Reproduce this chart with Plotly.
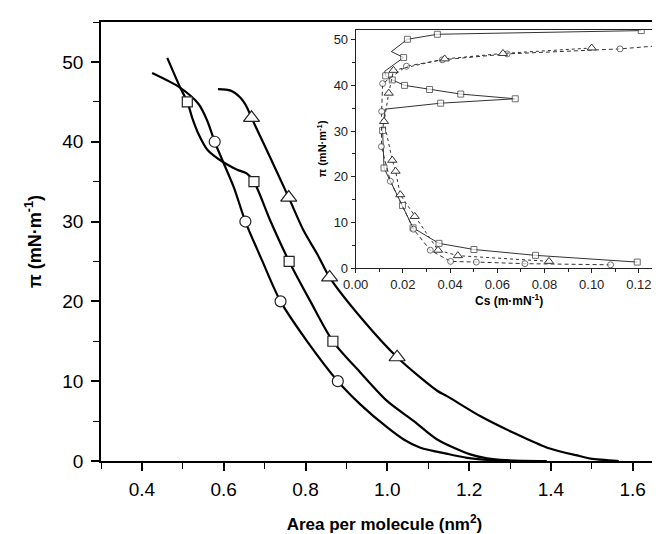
import plotly.graph_objects as go

# ---------------- main chart data (Area per molecule vs surface pressure) ----------------
circ_curve_x = [0.425, 0.494, 0.539, 0.56, 0.578, 0.60, 0.625, 0.653, 0.694, 0.739, 0.804, 0.879, 0.934, 1.0, 1.04, 1.081, 1.147, 1.195, 1.228, 1.30]
circ_curve_y = [48.6, 46.75, 44.7, 42.6, 40.0, 37.3, 34.25, 30.0, 25.1, 20.0, 15.0, 10.0, 7.1, 4.2, 2.7, 1.67, 0.9, 0.4, 0.2, 0.0]

sq_curve_x = [0.462, 0.494, 0.511, 0.523, 0.539, 0.56, 0.60, 0.633, 0.657, 0.674, 0.714, 0.760, 0.812, 0.867, 0.934, 1.0, 1.065, 1.122, 1.203, 1.244, 1.29, 1.39]
sq_curve_y = [50.5, 46.75, 45.0, 43.0, 40.9, 39.0, 37.4, 36.5, 36.0, 35.0, 30.1, 25.0, 20.0, 15.0, 11.1, 7.5, 5.0, 2.7, 0.83, 0.33, 0.1, 0.0]

tri_curve_x = [0.586, 0.617, 0.641, 0.657, 0.668, 0.714, 0.759, 0.796, 0.829, 0.859, 0.943, 1.024, 1.122, 1.147, 1.228, 1.31, 1.391, 1.472, 1.497, 1.566]
tri_curve_y = [46.6, 46.4, 45.5, 44.3, 43.0, 38.0, 33.0, 28.8, 25.9, 23.0, 17.5, 13.0, 8.8, 8.1, 5.6, 3.5, 1.67, 0.6, 0.3, 0.0]

circ_mark_x = [0.578, 0.653, 0.739, 0.879]
circ_mark_y = [40, 30, 20, 10]
sq_mark_x = [0.511, 0.674, 0.760, 0.867]
sq_mark_y = [45, 35, 25, 15]
tri_mark_x = [0.668, 0.759, 0.859, 1.024]
tri_mark_y = [43, 33, 23, 13]

# ---------------- inset data (Cs vs surface pressure) ----------------
in_sq_cs = [0.1193, 0.0762, 0.0501, 0.0353, 0.0243, 0.0198, 0.0120, 0.0114, 0.0125, 0.0360, 0.0676, 0.0445, 0.0313, 0.0207, 0.0155, 0.0127, 0.0123, 0.0203, 0.0151, 0.0219, 0.0346, 0.121]
in_sq_pi = [1.3, 2.77, 4.05, 5.4, 8.8, 13.7, 21.9, 30.1, 34.8, 36.1, 37.07, 38.1, 39.1, 40.0, 41.2, 42.1, 43.1, 46.1, 47.4, 50.1, 51.2, 52.0]
in_sq_marked = [1, 1, 1, 1, 1, 1, 1, 1, 0, 1, 1, 1, 1, 1, 1, 1, 0, 1, 0, 1, 1, 1]

in_ci_cs = [0.108, 0.0717, 0.0511, 0.0402, 0.0316, 0.0245, 0.0147, 0.0109, 0.011, 0.0114, 0.0215, 0.0367, 0.0642, 0.112, 0.131]
in_ci_pi = [0.7, 0.95, 1.3, 1.45, 3.9, 8.5, 19.0, 26.6, 34.3, 40.4, 44.2, 45.6, 46.9, 48.0, 48.8]
in_ci_marked = [1, 1, 1, 1, 1, 1, 1, 1, 1, 1, 1, 1, 1, 1, 0]

in_tr_cs = [0.0819, 0.0433, 0.0349, 0.025, 0.0189, 0.0169, 0.0155, 0.012, 0.014, 0.016, 0.0377, 0.0624, 0.100]
in_tr_pi = [1.46, 2.7, 3.9, 11.3, 16.05, 21.2, 23.6, 32.1, 38.3, 43.3, 45.8, 47.0, 48.2]

FONT = "Arial, Liberation Sans, sans-serif"
fig = go.Figure()

# main curves
for cx, cy in [(circ_curve_x, circ_curve_y), (sq_curve_x, sq_curve_y), (tri_curve_x, tri_curve_y)]:
    fig.add_trace(go.Scatter(x=cx, y=cy, mode="lines", line=dict(color="black", width=2.2, shape="spline", smoothing=0.8),
                             showlegend=False, hoverinfo="skip", xaxis="x", yaxis="y"))
for mx, my, sym, sz in [(circ_mark_x, circ_mark_y, "circle", 11), (sq_mark_x, sq_mark_y, "square", 10), (tri_mark_x, tri_mark_y, "triangle-up", 14)]:
    fig.add_trace(go.Scatter(x=mx, y=my, mode="markers",
                             marker=dict(symbol=sym, size=sz, color="white", line=dict(color="#222", width=1.2)),
                             showlegend=False, xaxis="x", yaxis="y"))

# inset
INC = "#333333"
fig.add_trace(go.Scatter(x=in_sq_cs, y=in_sq_pi, mode="lines+markers", line=dict(color=INC, width=1),
                         marker=dict(symbol="square", size=[6 if m else 0 for m in in_sq_marked], color="white", line=dict(color=INC, width=1)),
                         showlegend=False, xaxis="x2", yaxis="y2"))
fig.add_trace(go.Scatter(x=in_ci_cs, y=in_ci_pi, mode="lines+markers", line=dict(color=INC, width=1, dash="4px,3px"),
                         marker=dict(symbol="circle", size=[6 if m else 0 for m in in_ci_marked], color="white", line=dict(color=INC, width=1)),
                         showlegend=False, xaxis="x2", yaxis="y2"))
fig.add_trace(go.Scatter(x=in_tr_cs, y=in_tr_pi, mode="lines+markers", line=dict(color=INC, width=1, dash="dot"),
                         marker=dict(symbol="triangle-up", size=8, color="white", line=dict(color=INC, width=1)),
                         showlegend=False, xaxis="x2", yaxis="y2"))

W, H = 660, 534
L, R, T, B = 93, 0, 14, 81
pw, ph = W - L - R, H - T - B

def dx(px):
    return (px - L) / pw

def dy(py):
    return (H - B - py) / ph

fig.update_layout(
    width=W, height=H,
    margin=dict(l=L, r=R, t=T, b=B, autoexpand=False),
    paper_bgcolor="white", plot_bgcolor="white",
    font=dict(family=FONT, color="black"),
    xaxis=dict(domain=[0, 1], range=[0.3, 0.3 + pw / 409.0], showline=True, linecolor="black", linewidth=1.6,
               mirror=True, ticks="outside", ticklen=8, tickwidth=1.5, tickcolor="black", dtick=0.2, tick0=0.4,
               tickformat=".1f", tickfont=dict(size=19, family=FONT), showgrid=False, zeroline=False,
               ticklabelstandoff=2, automargin=False,
               minor=dict(ticks="outside", ticklen=6, tickwidth=1.2, tickcolor="black", dtick=0.1, tick0=0.3),
               title=dict(text="<b>Area per molecule (nm<sup>2</sup>)</b>", font=dict(size=17, family=FONT), standoff=20),
               anchor="y"),
    yaxis=dict(domain=[0, 1], range=[0, 55], showline=True, linecolor="black", linewidth=1.6, mirror=False,
               ticks="outside", ticklen=8, tickwidth=1.5, tickcolor="black", dtick=10, tick0=0,
               tickfont=dict(size=19, family=FONT), showgrid=False, zeroline=False,
               ticklabelstandoff=4, automargin=False,
               minor=dict(ticks="outside", ticklen=6, tickwidth=1.2, tickcolor="black", dtick=5, tick0=0),
               title=dict(text="<b>π (mN·m<sup>-1</sup>)</b>", font=dict(size=18, family=FONT), standoff=16),
               anchor="x"),
    xaxis2=dict(domain=[dx(347.7), dx(654.5)], range=[0, 0.13], showline=True, linecolor="#222", linewidth=1,
                mirror=True, ticks="outside", ticklen=4, tickwidth=1, tickcolor="#222", dtick=0.02, tick0=0,
                tickformat=".2f", tickfont=dict(size=13, family=FONT, color="#222"), showgrid=False, zeroline=False,
                automargin=False,
                minor=dict(ticks="outside", ticklen=3, tickwidth=1, tickcolor="#222", dtick=0.01, tick0=0),
                title=dict(text="<b>Cs (m·mN<sup>-1</sup>)</b>", font=dict(size=12, family=FONT), standoff=6),
                anchor="y2"),
    yaxis2=dict(domain=[dy(260), dy(21.7)], range=[0, 52.2], showline=True, linecolor="#222", linewidth=1,
                mirror=True, ticks="outside", ticklen=4, tickwidth=1, tickcolor="#222", dtick=10, tick0=0,
                tickfont=dict(size=13, family=FONT, color="#222"), showgrid=False, zeroline=False,
                automargin=False,
                minor=dict(ticks="outside", ticklen=3, tickwidth=1, tickcolor="#222", dtick=5, tick0=0),
                title=dict(text="<b>π (mN·m<sup>-1</sup>)</b>", font=dict(size=11, family=FONT), standoff=4),
                anchor="x2"),
)

fig.write_html("out.html")
